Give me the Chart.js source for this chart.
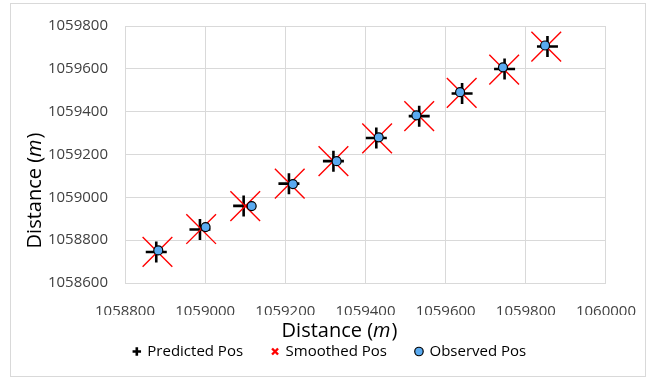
<!DOCTYPE html>
<html>
<head>
<meta charset="utf-8">
<script src="https://cdn.jsdelivr.net/npm/chart.js@4"></script>
<style>
    html, body { margin: 0; padding: 0; background: #fff; }
    #wrap { width: 656px; height: 377px; }
</style>
</head>
<body>
<div id="wrap"><canvas id="posChart"></canvas></div>
<script>
// values
const predictedX = [1058878, 1058987, 1059096, 1059209, 1059320, 1059427, 1059534, 1059641, 1059747, 1059854];
const predictedY = [1058745, 1058850, 1058960, 1059064, 1059169, 1059277, 1059379, 1059485, 1059599, 1059704];
const smoothedX = [1058881, 1058990, 1059100, 1059211, 1059320, 1059429, 1059534, 1059640, 1059746, 1059851];
const smoothedY = [1058745, 1058852, 1058959, 1059064, 1059169, 1059275, 1059379, 1059488, 1059596, 1059704];
const observedX = [1058883, 1059001, 1059116, 1059219, 1059328, 1059433, 1059527, 1059636, 1059743, 1059848];
const observedY = [1058752, 1058861, 1058959, 1059062, 1059169, 1059280, 1059383, 1059491, 1059607, 1059709];

const xTicks = [1058800, 1059000, 1059200, 1059400, 1059600, 1059800, 1060000];
const yTicks = [1058600, 1058800, 1059000, 1059200, 1059400, 1059600, 1059800];
const seriesNames = ["Predicted Pos", "Smoothed Pos", "Observed Pos"];
const axisTitle = ["Distance (", "m", ")"];

const FONT = "'Open Sans', 'DejaVu Sans', sans-serif";

function toPoints(xs, ys) {
    return xs.map((x, i) => ({ x: x, y: ys[i] }));
}

// frame around the whole chart, like the Excel chart border
const framePlugin = {
    id: "frame",
    beforeDraw(chart) {
        const ctx = chart.ctx;
        ctx.save();
        ctx.fillStyle = "#fff";
        ctx.fillRect(0, 0, chart.width, chart.height);
        ctx.strokeStyle = "#d9d9d9";
        ctx.lineWidth = 1;
        ctx.strokeRect(10.5, 3.5, chart.width - 21, chart.height - 4);
        ctx.restore();
    },
};

// axis titles with an italic "m"
function drawTitle(ctx, cx, cy) {
    const normal = "20px " + FONT;
    const italic = "italic 20px " + FONT;
    ctx.font = normal;
    const w1 = ctx.measureText(axisTitle[0]).width;
    const w3 = ctx.measureText(axisTitle[2]).width;
    ctx.font = italic;
    const w2 = ctx.measureText(axisTitle[1]).width + 1;
    let x = cx - (w1 + w2 + w3) / 2;
    ctx.textBaseline = "middle";
    ctx.textAlign = "left";
    ctx.font = normal;
    ctx.fillText(axisTitle[0], x, cy);
    ctx.font = italic;
    ctx.fillText(axisTitle[1], x + w1, cy);
    ctx.font = normal;
    ctx.fillText(axisTitle[2], x + w1 + w2, cy);
}

const titlePlugin = {
    id: "axisTitles",
    afterDraw(chart) {
        const ctx = chart.ctx;
        const area = chart.chartArea;
        ctx.save();
        ctx.fillStyle = "#000";
        drawTitle(ctx, (area.left + area.right) / 2 - 26, area.bottom + 48);
        ctx.translate(35, chart.height / 2 + 2);
        ctx.rotate(-Math.PI / 2);
        drawTitle(ctx, 0, 0);
        ctx.restore();
    },
};

new Chart(document.getElementById("posChart"), {
    type: "scatter",
    data: {
        datasets: [
            {
                label: seriesNames[2],
                data: toPoints(observedX, observedY),
                pointStyle: "circle",
                pointRadius: 4.5,
                pointBackgroundColor: "#5aaaf0",
                pointBorderColor: "#000",
                pointBorderWidth: 1.2,
            },
            {
                label: seriesNames[1],
                data: toPoints(smoothedX, smoothedY),
                pointStyle: "crossRot",
                pointRadius: 21,
                pointBackgroundColor: "#ff0000",
                pointBorderColor: "#ff0000",
                pointBorderWidth: 1.4,
            },
            {
                label: seriesNames[0],
                data: toPoints(predictedX, predictedY),
                pointStyle: "cross",
                pointRadius: 10.5,
                pointBackgroundColor: "#000",
                pointBorderColor: "#000",
                pointBorderWidth: 2.6,
            },
        ],
    },
    options: {
        responsive: true,
        maintainAspectRatio: false,
        animation: false,
        events: [],
        layout: {
            padding: { left: 48, right: 44, top: 19, bottom: 8 },
        },
        scales: {
            x: {
                min: xTicks[0],
                max: xTicks[xTicks.length - 1],
                afterBuildTicks: (scale) => {
                    scale.ticks = xTicks.map((v) => ({ value: v }));
                },
                afterFit: (scale) => {
                    scale.height = 32;
                },
                grid: { color: "#d9d9d9", drawTicks: false },
                border: { color: "#d9d9d9" },
                ticks: {
                    padding: 20,
                    color: "#404040",
                    font: { family: FONT, size: 15 },
                    maxRotation: 0,
                    callback: (v) => String(v),
                },
            },
            y: {
                min: yTicks[0],
                max: yTicks[yTicks.length - 1],
                afterBuildTicks: (scale) => {
                    scale.ticks = yTicks.map((v) => ({ value: v }));
                },
                afterFit: (scale) => {
                    scale.width = 77;
                },
                grid: { color: "#d9d9d9", drawTicks: false },
                border: { color: "#d9d9d9" },
                ticks: {
                    padding: 17,
                    color: "#404040",
                    font: { family: FONT, size: 15 },
                    callback: (v) => String(v),
                },
            },
        },
        plugins: {
            tooltip: { enabled: false },
            legend: {
                position: "bottom",
                labels: {
                    usePointStyle: true,
                    boxWidth: 6,
                    boxHeight: 6,
                    padding: 29,
                    color: "#000",
                    font: { family: FONT, size: 15 },
                    sort: (a, b) => b.datasetIndex - a.datasetIndex,
                    generateLabels: (chart) => {
                        const items = Chart.defaults.plugins.legend.labels.generateLabels(chart);
                        items.forEach((item) => {
                            const ds = chart.data.datasets[item.datasetIndex];
                            if (ds.pointStyle === "cross") item.lineWidth = 2.6;
                            if (ds.pointStyle === "crossRot") item.lineWidth = 2.4;
                            if (ds.pointStyle === "circle") item.lineWidth = 1.2;
                        });
                        return items;
                    },
                },
            },
        },
    },
    plugins: [framePlugin, titlePlugin],
});
</script>
</body>
</html>
